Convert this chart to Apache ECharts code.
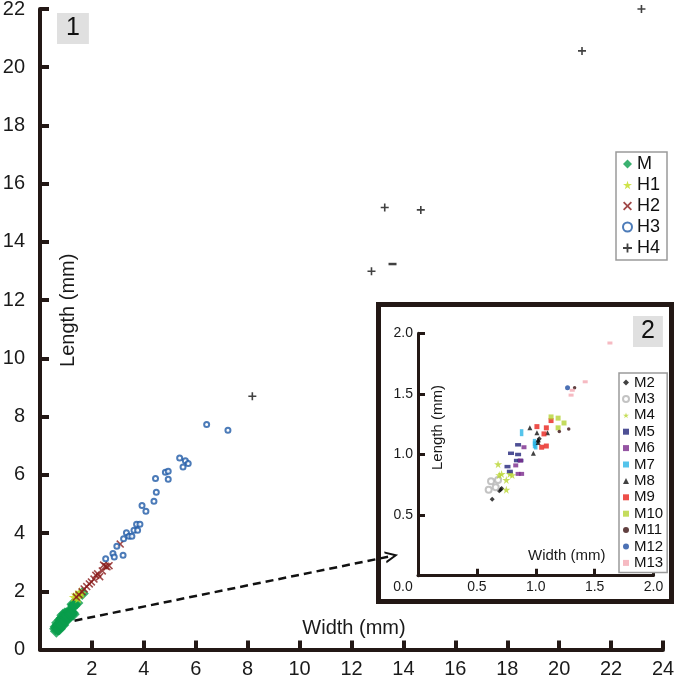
<!DOCTYPE html>
<html><head><meta charset="utf-8">
<script src="https://cdn.jsdelivr.net/npm/echarts@6/dist/echarts.min.js"></script>
<style>html,body{margin:0;padding:0;background:#fff}#c{width:680px;height:681px}</style>
</head><body><div id="c"></div>
<script>
// ---- inset (panel 2) data: [width, length] in mm ----
const M2  = [[0.63,0.63],[0.69,0.70],[0.70,0.71],[0.71,0.72],[1.02,1.11],[1.03,1.13]];
const M3  = [[0.62,0.78],[0.68,0.79],[0.60,0.71],[0.66,0.73]];
const M4  = [[0.68,0.92],[0.69,0.83],[0.71,0.84],[0.75,0.79],[0.75,0.71],[0.78,0.84],[0.80,0.83]];
const M5  = [[0.85,1.08],[0.79,1.01],[0.85,1.00],[0.76,0.90],[0.84,0.95],[0.87,0.95],[0.78,0.86]];
const M6  = [[0.90,1.06],[0.87,0.95],[0.83,0.91],[0.85,0.84],[0.88,0.84]];
const M7  = [[0.88,1.18],[0.99,1.10],[1.00,1.07],[0.99,1.08]];
const M8  = [[0.95,1.22],[1.01,1.18],[1.10,1.18],[1.02,1.12],[0.98,1.01],[1.02,1.10]];
const M9  = [[1.01,1.23],[1.09,1.22],[1.13,1.28],[1.05,1.06],[1.09,1.07],[1.07,1.17]];
const M10 = [[1.13,1.31],[1.19,1.30],[1.24,1.26],[1.19,1.22]];
const M11 = [[1.20,1.19],[1.28,1.21],[1.33,1.55]];
const M12 = [[1.27,1.55]];
const M13 = [[1.63,1.92],[1.42,1.60],[1.31,1.53],[1.30,1.49]];

// ---- main (panel 1) data ----
const M  = [].concat(M2,M3,M4,M5,M6,M7,M8,M9,M10,M11,M12,M13);
const H1 = [[1.30,1.80],[1.38,1.88],[1.47,1.76],[1.52,1.98],[1.60,1.93],[1.42,1.84]];
const H2 = [[1.40,1.80],[1.50,1.88],[1.62,1.98],[1.70,2.08],[1.80,2.16],[1.90,2.25],[1.98,2.32],
            [2.08,2.42],[2.15,2.55],[2.22,2.60],[2.30,2.50],[2.40,2.70],[2.45,2.90],[2.52,2.86],
            [2.58,2.84],[2.66,2.88],[3.09,3.62]];
const H3 = [[2.53,3.12],[2.81,3.30],[2.86,3.18],[3.20,3.24],[2.96,3.55],[3.22,3.80],[3.33,4.01],
            [3.43,3.89],[3.54,3.89],[3.62,4.10],[3.76,4.10],[3.72,4.30],[3.85,4.30],[3.93,4.95],
            [4.08,4.75],[4.39,5.09],[4.48,5.40],[4.45,5.87],[4.94,5.85],[4.83,6.09],[4.94,6.12],
            [5.38,6.58],[5.60,6.48],[5.71,6.39],[5.51,6.27],[6.42,7.73],[7.24,7.53]];
const H4 = [[8.18,8.70],[12.77,12.99],[13.58,13.24],[13.28,15.18],[14.67,15.10],[20.88,20.56],[23.17,22.00]];
const H4_MINUS = [13.58,13.24]; // drawn as a dash in the reference

const mainXTicks = {min:0, max:24, step:2};
const mainYTicks = {min:0, max:22, step:2};
const insetTicks = {min:0, max:2, step:0.5};

const FONT = 'Liberation Sans, Arial, Helvetica, sans-serif';
const AX = '#231815';
const STAR = 'path://M50,0 L61,35 L98,35 L68,57 L79,91 L50,70 L21,91 L32,57 L2,35 L39,35 Z';
const PLUS = 'path://M4,0 H6 V4 H10 V6 H6 V10 H4 V6 H0 V4 H4 Z';
const XMARK = 'path://M1.4,0 L5,3.6 L8.6,0 L10,1.4 L6.4,5 L10,8.6 L8.6,10 L5,6.4 L1.4,10 L0,8.6 L3.6,5 L0,1.4 Z';
const DASH = 'path://M0,0 H10 V2.5 H0 Z';
const CHEV = 'path://M0,10 L5,0 L10,10 L8.2,10 L5,3.6 L1.8,10 Z';

function axisCommon(lw, tickLen, tw){
  return {
    axisLine:{show:true, onZero:false, lineStyle:{color:AX, width:lw}},
    axisTick:{show:true, inside:true, length:tickLen, lineStyle:{color:AX, width:tw}},
    splitLine:{show:false},
    nameLocation:'middle', nameMoveOverlap:false
  };
}

const h4Data = H4.map(p => (p[0]===H4_MINUS[0] && p[1]===H4_MINUS[1])
  ? {value:p, symbol:DASH, symbolSize:[8,2.5]} : p);

const option = {
  animation:false,
  backgroundColor:'#fff',
  textStyle:{fontFamily:FONT},
  title:[
    {text:'1', left:57, top:13, backgroundColor:'#e0e0e0', padding:[3,9,3,9],
     textStyle:{fontSize:25, fontWeight:'normal', color:'#111', fontFamily:FONT}},
    {text:'2', left:633, top:316, backgroundColor:'#e0e0e0', padding:[3,8,3,8],
     textStyle:{fontSize:25, fontWeight:'normal', color:'#111', fontFamily:FONT}}
  ],
  grid:[
    {left:40, top:9, width:623, height:640.5, outerBoundsMode:'none', containLabel:false},
    {left:418, top:333.3, width:235.5, height:242.4, outerBoundsMode:'none', containLabel:false}
  ],
  xAxis:[
    Object.assign(axisCommon(4,9,4), {
      gridIndex:0, type:'value', min:mainXTicks.min, max:mainXTicks.max, interval:mainXTicks.step,
      name:'Width (mm)', nameGap:-21,
      nameTextStyle:{fontSize:20, color:'#1a1a1a', fontFamily:FONT, verticalAlign:'middle', padding:[0,0,0,5]},
      axisLabel:{show:true, color:'#1a1a1a', fontSize:20, fontFamily:FONT, margin:10, formatter:v => v===0?'':String(v)}
    }),
    Object.assign(axisCommon(3,7,3), {
      gridIndex:1, type:'value', min:insetTicks.min, max:insetTicks.max, interval:insetTicks.step,
      name:'Width (mm)', nameGap:-20,
      nameTextStyle:{fontSize:15, color:'#1a1a1a', fontFamily:FONT, verticalAlign:'middle', padding:[0,0,0,62]},
      axisLabel:{show:true, color:'#1a1a1a', fontSize:14, fontFamily:FONT, margin:4,
        formatter:v => v===0 ? '{o|0.0}' : v.toFixed(1),
        rich:{o:{fontSize:14, fontFamily:FONT, color:'#1a1a1a', padding:[0,30,0,0]}}}
    })
  ],
  yAxis:[
    Object.assign(axisCommon(4,9,4), {
      gridIndex:0, type:'value', min:mainYTicks.min, max:mainYTicks.max, interval:mainYTicks.step,
      name:'Length (mm)', nameGap:-28,
      nameTextStyle:{fontSize:20, color:'#1a1a1a', fontFamily:FONT, verticalAlign:'middle', padding:[0,0,0,38]},
      axisLabel:{show:true, color:'#1a1a1a', fontSize:20, fontFamily:FONT, margin:15}
    }),
    Object.assign(axisCommon(3,7,3), {
      gridIndex:1, type:'value', min:insetTicks.min, max:insetTicks.max, interval:insetTicks.step,
      name:'Length (mm)', nameGap:-20,
      nameTextStyle:{fontSize:15, color:'#1a1a1a', fontFamily:FONT, verticalAlign:'middle', padding:[0,0,0,54]},
      axisLabel:{show:true, color:'#1a1a1a', fontSize:14, fontFamily:FONT, margin:5, formatter:v => v===0?'':v.toFixed(1)}
    })
  ],
  legend:[
    {data:['M','H1','H2','H3','H4'], orient:'vertical', left:616, top:152,
     padding:[3,7,3,6], itemGap:3, itemWidth:9, itemHeight:9, itemTextGap:3,
     borderColor:'#9a9a9a', borderWidth:1.5, backgroundColor:'#fff',
     textStyle:{fontSize:18, lineHeight:18, color:'#111', fontFamily:FONT}},
    {data:['M2','M3','M4','M5','M6','M7','M8','M9','M10','M11','M12','M13'], orient:'vertical', left:619, top:373,
     padding:[2,4,2,3], itemGap:1.4, itemWidth:6, itemHeight:6, itemTextGap:2,
     borderColor:'#9a9a9a', borderWidth:1.5, backgroundColor:'#fff',
     textStyle:{fontSize:15, lineHeight:14, color:'#111', fontFamily:FONT}}
  ],
  graphic:[
    {type:'rect', shape:{x:378.5, y:304.5, width:293, height:297}, z:-10,
     style:{fill:'#fff', stroke:AX, lineWidth:5}}
  ],
  series:[
    {name:'M', type:'scatter', xAxisIndex:0, yAxisIndex:0, data:M, symbol:'diamond', symbolSize:13,
     itemStyle:{color:'#0a9e4c'},
     markLine:{silent:true, symbol:['none', CHEV], symbolSize:[12,13],
       lineStyle:{type:[8,5], color:'#111', width:2.5}, label:{show:false},
       itemStyle:{color:'#111'},
       data:[[{coord:[1.33,0.99]},{coord:[13.55,3.21]}]]}},
    {name:'H1', type:'scatter', xAxisIndex:0, yAxisIndex:0, data:H1, symbol:STAR, symbolSize:10,
     itemStyle:{color:'#c3dc1c'}},
    {name:'H2', type:'scatter', xAxisIndex:0, yAxisIndex:0, data:H2, symbol:XMARK, symbolSize:8,
     itemStyle:{color:'#8a1c1c'}},
    {name:'H3', type:'scatter', xAxisIndex:0, yAxisIndex:0, data:H3, symbol:'emptyCircle', symbolSize:5,
     itemStyle:{color:'#1f5aa6', borderWidth:1.8}},
    {name:'H4', type:'scatter', xAxisIndex:0, yAxisIndex:0, data:h4Data, symbol:PLUS, symbolSize:8,
     itemStyle:{color:'#111'}},

    {name:'M2', type:'scatter', xAxisIndex:1, yAxisIndex:1, data:M2, symbol:'diamond', symbolSize:5, itemStyle:{color:'#111'}},
    {name:'M3', type:'scatter', xAxisIndex:1, yAxisIndex:1, data:M3, symbol:'emptyCircle', symbolSize:6, itemStyle:{color:'#b4b4b4', borderWidth:1.5}},
    {name:'M4', type:'scatter', xAxisIndex:1, yAxisIndex:1, data:M4, symbol:STAR, symbolSize:8, itemStyle:{color:'#b8d530'}},
    {name:'M5', type:'scatter', xAxisIndex:1, yAxisIndex:1, data:M5, symbol:'rect', symbolSize:[6,3.5], itemStyle:{color:'#22247a'}},
    {name:'M6', type:'scatter', xAxisIndex:1, yAxisIndex:1, data:M6, symbol:'rect', symbolSize:[5,4], itemStyle:{color:'#7a2a8c'}},
    {name:'M7', type:'scatter', xAxisIndex:1, yAxisIndex:1, data:M7, symbol:'rect', symbolSize:[3.5,7], itemStyle:{color:'#2bb5e6'}},
    {name:'M8', type:'scatter', xAxisIndex:1, yAxisIndex:1, data:M8, symbol:'triangle', symbolSize:5, itemStyle:{color:'#111'}},
    {name:'M9', type:'scatter', xAxisIndex:1, yAxisIndex:1, data:M9, symbol:'rect', symbolSize:5, itemStyle:{color:'#e8231d'}},
    {name:'M10', type:'scatter', xAxisIndex:1, yAxisIndex:1, data:M10, symbol:'rect', symbolSize:5, itemStyle:{color:'#b5d334'}},
    {name:'M11', type:'scatter', xAxisIndex:1, yAxisIndex:1, data:M11, symbol:'circle', symbolSize:3.5, itemStyle:{color:'#3a1010'}},
    {name:'M12', type:'scatter', xAxisIndex:1, yAxisIndex:1, data:M12, symbol:'circle', symbolSize:5, itemStyle:{color:'#1f4ea1'}},
    {name:'M13', type:'scatter', xAxisIndex:1, yAxisIndex:1, data:M13, symbol:'rect', symbolSize:[5,3], itemStyle:{color:'#f4a9b3'}}
  ]
};
const chart = echarts.init(document.getElementById('c'), null, {renderer:'canvas'});
chart.setOption(option);
</script>
</body></html>
